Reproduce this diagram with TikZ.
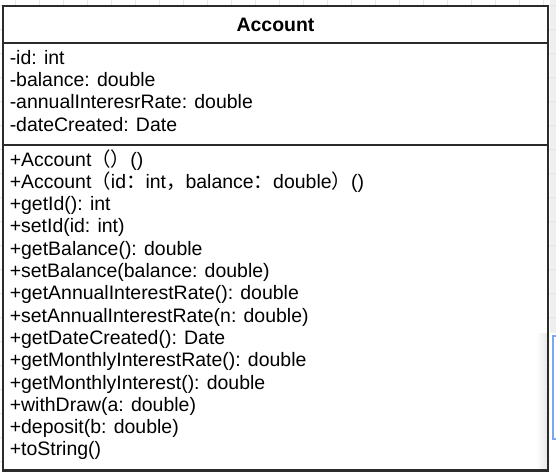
\documentclass[tikz,border=0pt]{standalone}
\usepackage{fontspec}
\setmainfont{Liberation Sans}
\newfontfamily\cjk{Noto Sans CJK SC}
\definecolor{gridc}{HTML}{E6E6E6}
\definecolor{panelc}{HTML}{EFEFEF}
\definecolor{borderc}{HTML}{2B2B2B}
\definecolor{textc}{HTML}{000000}
\definecolor{bluec}{HTML}{7AA7F2}
\tikzset{
  gridline/.style={draw=gridc, line width=0.75pt},
  boxline/.style={draw=borderc, line width=1.6pt},
  sepline/.style={draw=borderc, line width=1.3pt},
  member/.style={anchor=base west, inner sep=0pt, text=textc, font=\fontsize{14.6pt}{17pt}\selectfont},
  titletext/.style={anchor=base, inner sep=0pt, text=textc, font=\fontsize{14.6pt}{17pt}\selectfont\bfseries}
}
\begin{document}
\begin{tikzpicture}[x=0.75pt,y=-0.75pt]
\useasboundingbox (0,0) rectangle (556,472);
\fill[white] (0,0) rectangle (556,472);
\fill[panelc] (549.5,0) rectangle (556,472);
\foreach \x in {15.7,39.7,...,555.7} \draw[gridline] (\x,0) -- (\x,472);
\foreach \y in {5.7,29.7,...,471.7} \draw[gridline] (0,\y) -- (556,\y);
\fill[white] (550,333) rectangle (556,472);
\draw[draw=bluec, line width=1.5pt] (552.5,336) rectangle (560,439);
% class box
\coordinate (tl) at (3,6);
\coordinate (br) at (548,470.5);
\fill[white] (tl) rectangle (br);
\shade[left color=white, right color=black!9] (536,333) rectangle (547.5,470);
\coordinate (s1l) at (3,42.7);
\coordinate (s1r) at (548,42.7);
\coordinate (s2l) at (3,145);
\coordinate (s2r) at (548,145);
\draw[sepline] (s1l) -- (s1r);
\draw[sepline] (s2l) -- (s2r);
\draw[boxline] (tl) rectangle (br);
\node[titletext] (title) at (275.5,31.4) {Account};
\node[member] (a1) at (9.5,64.2) {-id: int};
\node[member] (a2) at (9.5,86.5) {-balance: double};
\node[member] (a3) at (9.5,108.8) {-annualInteresrRate: double};
\node[member] (a4) at (9.5,131.1) {-dateCreated: Date};
\node[member] (m1) at (9.5,166.0) {+Account{\cjk （）}()};
\node[member] (m2) at (9.5,188.3) {+Account{\cjk （}id{\cjk ：}int{\cjk ，}balance{\cjk ：}double{\cjk ）}()};
\node[member] (m3) at (9.5,210.6) {+getId(): int};
\node[member] (m4) at (9.5,232.9) {+setId(id: int)};
\node[member] (m5) at (9.5,255.2) {+getBalance(): double};
\node[member] (m6) at (9.5,277.5) {+setBalance(balance: double)};
\node[member] (m7) at (9.5,299.8) {+getAnnualInterestRate(): double};
\node[member] (m8) at (9.5,322.1) {+setAnnualInterestRate(n: double)};
\node[member] (m9) at (9.5,344.4) {+getDateCreated(): Date};
\node[member] (m10) at (9.5,366.7) {+getMonthlyInterestRate(): double};
\node[member] (m11) at (9.5,389.0) {+getMonthlyInterest(): double};
\node[member] (m12) at (9.5,411.3) {+withDraw(a: double)};
\node[member] (m13) at (9.5,433.6) {+deposit(b: double)};
\node[member] (m14) at (9.5,455.9) {+toString()};
\end{tikzpicture}
\end{document}
